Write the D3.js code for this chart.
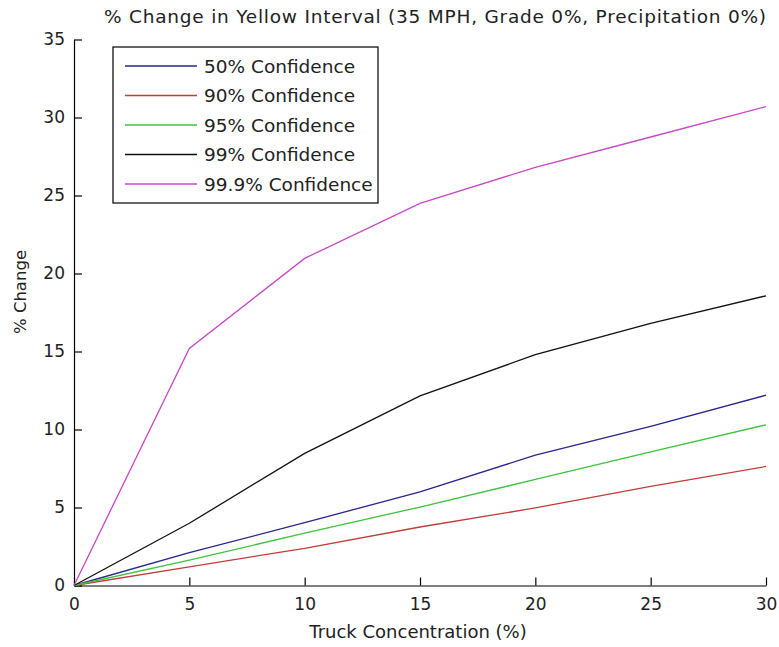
<!DOCTYPE html>
<html>
<head>
<meta charset="utf-8">
<script src="https://cdn.jsdelivr.net/npm/d3@7"></script>
<style>
body { margin:0; background:#fff; }
text { font-family: "DejaVu Sans", sans-serif; fill:#222; }
</style>
</head>
<body>
<div id="chart"></div>
<script>
// data
var truck = [0, 5, 10, 15, 20, 25, 30];
var conf50 = [0, 2.1, 4.03, 6.0, 8.35, 10.2, 12.2];
var conf90 = [0, 1.2, 2.38, 3.75, 4.97, 6.35, 7.63];
var conf95 = [0, 1.63, 3.35, 5.03, 6.8, 8.57, 10.3];
var conf99 = [0, 3.99, 8.47, 12.15, 14.8, 16.8, 18.57];
var conf999 = [0, 15.2, 20.97, 24.5, 26.8, 28.75, 30.7];
var seriesNames = ["50% Confidence", "90% Confidence", "95% Confidence", "99% Confidence", "99.9% Confidence"];
var seriesColors = ["#26268c", "#c23c38", "#3cc43c", "#111111", "#c848c8"];
var xTicks = [0, 5, 10, 15, 20, 25, 30];
var yTicks = [0, 5, 10, 15, 20, 25, 30, 35];

var allSeries = [conf50, conf90, conf95, conf99, conf999];

var W = 779, H = 647;
var margin = {top: 39.5, right: 13, bottom: 61.5, left: 74};
var width = W - margin.left - margin.right,
    height = H - margin.top - margin.bottom;

var svg = d3.select("#chart")
  .append("svg")
    .attr("width", W)
    .attr("height", H);

var g = svg.append("g")
    .attr("transform", "translate(" + margin.left + "," + margin.top + ")");

var x = d3.scaleLinear().domain([0, 30]).range([0, width]);
var y = d3.scaleLinear().domain([0, 35]).range([height, 0]);

// axes, ticks point inward like matlab
var xAxis = g.append("g")
  .attr("transform", "translate(0," + height + ")")
  .call(d3.axisBottom(x).tickValues(xTicks).tickSizeInner(-8).tickSizeOuter(0).tickPadding(16));
var yAxis = g.append("g")
  .call(d3.axisLeft(y).tickValues(yTicks).tickSizeInner(-8).tickSizeOuter(0).tickPadding(9));

[xAxis, yAxis].forEach(function(a){
  a.select(".domain").attr("stroke", "#000").attr("stroke-width", 1.2);
  a.selectAll(".tick line").attr("stroke", "#000").attr("stroke-width", 1.2);
  a.selectAll(".tick text").attr("font-size", 17).attr("font-family", "DejaVu Sans").attr("fill", "#222");
});
xAxis.selectAll(".tick text").attr("dy", "0.5em");

// lines
var line = d3.line()
  .x(function(d, i){ return x(truck[i]); })
  .y(function(d){ return y(d); });

allSeries.forEach(function(s, k){
  g.append("path")
    .datum(s)
    .attr("fill", "none")
    .attr("stroke", seriesColors[k])
    .attr("stroke-width", 1.3)
    .attr("d", line);
});

// title + labels
svg.append("text")
  .attr("x", 104).attr("y", 23)
  .attr("font-size", 18.5)
  .attr("textLength", 662)
  .attr("lengthAdjust", "spacing")
  .text("% Change in Yellow Interval (35 MPH, Grade 0%, Precipitation 0%)");

svg.append("text")
  .attr("x", 418).attr("y", 638)
  .attr("text-anchor", "middle")
  .attr("font-size", 18)
  .text("Truck Concentration (%)");

svg.append("text")
  .attr("transform", "translate(26,292) rotate(-90)")
  .attr("text-anchor", "middle")
  .attr("font-size", 16.5)
  .text("% Change");

// legend
var lg = svg.append("g").attr("transform", "translate(113,47)");
lg.append("rect")
  .attr("width", 265).attr("height", 156)
  .attr("fill", "#fff").attr("stroke", "#000").attr("stroke-width", 1.2);

var items = lg.selectAll(".item")
  .data(seriesNames)
  .enter().append("g")
  .attr("transform", function(d, i){ return "translate(0," + (19 + i*29.5) + ")"; });

items.append("line")
  .attr("x1", 12).attr("x2", 84)
  .attr("stroke", function(d, i){ return seriesColors[i]; })
  .attr("stroke-width", 1.3);

items.append("text")
  .attr("x", 91).attr("dy", "0.36em")
  .attr("font-size", 18.5)
  .text(function(d){ return d; });
</script>
</body>
</html>
